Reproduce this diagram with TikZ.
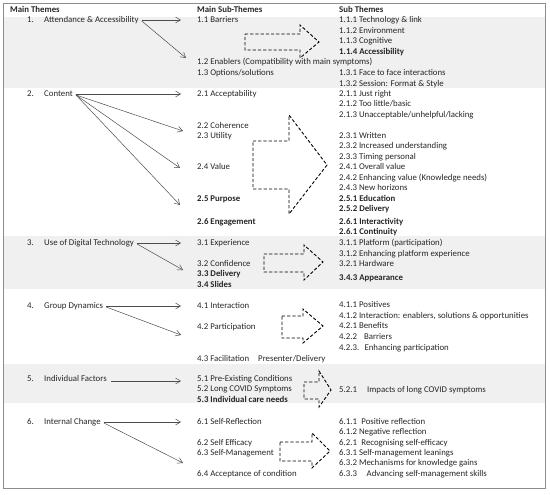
\documentclass[tikz,border=0pt]{standalone}
\usepackage{fontspec}
\setmainfont{Carlito}
\usetikzlibrary{positioning, arrows.meta, calc}

\begin{document}
\begin{tikzpicture}[x=1pt,y=-1pt,>={Straight Barb[length=5pt,width=6pt]},
    lbl/.style={anchor=west,inner sep=0pt,text height=7pt,text depth=1.3pt,
      font=\fontsize{8.8}{10.5}\selectfont,text=black!85},
    hd/.style={lbl,font=\fontsize{8.8}{10.5}\selectfont\bfseries},
    bold/.style={hd},
    link/.style={->,draw=black!70,line width=0.5pt},
    blockarrow/.style={draw=black,line width=0.9pt,dash pattern=on 3.2pt off 2pt,line join=miter},
    band/.style={fill=black!6,draw=none}]
    \useasboundingbox (0,0) rectangle (550,495);
    % shaded rows
    \fill[band] (3,17) rectangle (545,88);
    \fill[band] (3,236) rectangle (545,289);
    \fill[band] (3,364) rectangle (545,403);
    \draw[black!45,line width=0.8pt] (3,3) rectangle (545,488);
    % headings
    \node[hd] (h1) at (10,10) {Main Themes};
    \node[hd] (h2) at (197,10) {Main Sub-Themes};
    \node[hd] (h3) at (339,10) {Sub Themes};
    % 1
    \node[lbl] (n1) at (27,20) {1.};
    \node[lbl] (a1) at (44,20) {Attendance \& Accessibility};
    \node[lbl] (m11) at (197,20) {1.1 Barriers};
    \node[lbl] (m12) at (197,62) {1.2 Enablers (Compatibility with main symptoms)};
    \node[lbl] (m13) at (197,73) {1.3 Options/solutions};
    \node[lbl] (s111) at (339,20) {1.1.1 Technology \& link};
    \node[lbl] (s112) at (339,31) {1.1.2 Environment};
    \node[lbl] (s113) at (339,41) {1.1.3 Cognitive};
    \node[bold] (s114) at (339,52) {1.1.4 Accessibility};
    \node[lbl] (s131) at (339,73) {1.3.1 Face to face interactions};
    \node[lbl] (s132) at (339,84) {1.3.2 Session: Format \& Style};
    % 2
    \node[lbl] (n2) at (27,94) {2.};
    \node[lbl] (a2) at (44,94) {Content};
    \node[lbl] (m21) at (197,94) {2.1 Acceptability};
    \node[lbl] (m22) at (197,126) {2.2 Coherence};
    \node[lbl] (m23) at (197,136) {2.3 Utility};
    \node[lbl] (m24) at (197,167) {2.4 Value};
    \node[bold] (m25) at (197,199) {2.5 Purpose};
    \node[bold] (m26) at (197,222) {2.6 Engagement};
    \node[lbl] (s211) at (339,94) {2.1.1 Just right};
    \node[lbl] (s212) at (339,104) {2.1.2 Too little/basic};
    \node[lbl] (s213) at (339,115) {2.1.3 Unacceptable/unhelpful/lacking};
    \node[lbl] (s231) at (339,136) {2.3.1 Written};
    \node[lbl] (s232) at (339,146) {2.3.2 Increased understanding};
    \node[lbl] (s233) at (339,157) {2.3.3 Timing personal};
    \node[lbl] (s241) at (339,167) {2.4.1 Overall value};
    \node[lbl] (s242) at (339,178) {2.4.2 Enhancing value (Knowledge needs)};
    \node[lbl] (s243) at (339,188) {2.4.3 New horizons};
    \node[bold] (s251) at (339,199) {2.5.1 Education};
    \node[bold] (s252) at (339,209) {2.5.2 Delivery};
    \node[bold] (s261) at (339,222) {2.6.1 Interactivity};
    \node[bold] (s262) at (339,232) {2.6.1 Continuity};
    % 3
    \node[lbl] (n3) at (27,243) {3.};
    \node[lbl] (a3) at (44,243) {Use of Digital Technology};
    \node[lbl] (m31) at (197,243) {3.1 Experience};
    \node[lbl] (m32) at (197,264) {3.2 Confidence};
    \node[bold] (m33) at (197,274) {3.3 Delivery};
    \node[bold] (m34) at (197,285) {3.4 Slides};
    \node[lbl] (s311) at (339,243) {3.1.1 Platform (participation)};
    \node[lbl] (s312) at (339,254) {3.1.2 Enhancing platform experience};
    \node[lbl] (s321) at (339,264) {3.2.1 Hardware};
    \node[bold] (s343) at (339,278) {3.4.3 Appearance};
    % 4
    \node[lbl] (n4) at (27,306) {4.};
    \node[lbl] (a4) at (44,306) {Group Dynamics};
    \node[lbl] (m41) at (197,306) {4.1 Interaction};
    \node[lbl] (m42) at (197,327) {4.2 Participation};
    \node[lbl] (m43) at (197,359) {4.3 Facilitation};
    \node[lbl] (pres) at (258,359) {Presenter/Delivery};
    \node[lbl] (s411) at (339,305) {4.1.1 Positives};
    \node[lbl] (s412) at (339,316) {4.1.2 Interaction: enablers, solutions \& opportunities};
    \node[lbl] (s421) at (339,326) {4.2.1 Benefits};
    \node[lbl] (s422) at (339,337) {4.2.2\hspace{0.8em}Barriers};
    \node[lbl] (s423) at (339,348) {4.2.3.\hspace{0.6em}Enhancing participation};
    % 5
    \node[lbl] (n5) at (27,379) {5.};
    \node[lbl] (a5) at (44,379) {Individual Factors};
    \node[lbl] (m51) at (197,379) {5.1 Pre-Existing Conditions};
    \node[lbl] (m52) at (197,389) {5.2 Long COVID Symptoms};
    \node[bold] (m53) at (197,400) {5.3 Individual care needs};
    \node[lbl] (s521) at (339,390) {5.2.1};
    \node[lbl] (s521t) at (367,390) {Impacts of long COVID symptoms};
    % 6
    \node[lbl] (n6) at (27,422) {6.};
    \node[lbl] (a6) at (44,422) {Internal Change};
    \node[lbl] (m61) at (197,422) {6.1 Self-Reflection};
    \node[lbl] (m62) at (197,443) {6.2 Self Efficacy};
    \node[lbl] (m63) at (197,453) {6.3 Self-Management};
    \node[lbl] (m64) at (197,474) {6.4 Acceptance of condition};
    \node[lbl] (s611) at (339,422) {6.1.1\hspace{0.5em}Positive reflection};
    \node[lbl] (s612) at (339,432) {6.1.2 Negative reflection};
    \node[lbl] (s621) at (339,443) {6.2.1\hspace{0.5em}Recognising self-efficacy};
    \node[lbl] (s631) at (339,453) {6.3.1 Self-management leanings};
    \node[lbl] (s632) at (339,463) {6.3.2 Mechanisms for knowledge gains};
    \node[lbl] (s633) at (339,474) {6.3.3\hspace{1.1em}Advancing self-management skills};
    % theme -> sub-theme links
    \draw[link] ($(a1.east)+(3,0)$) -- ($(m11.west)+(-16,0)$);
    \draw[link] ($(a1.east)+(3,1)$) -- ($(m12.west)+(-11,-4)$);
    \draw[link] ($(a2.east)+(3,0)$) -- ($(m21.west)+(-16,0)$);
    \draw[link] ($(a2.east)+(3,1)$) -- ($(m22.west)+(-14,5)$);
    \draw[link] ($(a2.east)+(3,1)$) -- ($(m24.west)+(-17,1)$);
    \draw[link] ($(a2.east)+(3,1)$) -- ($(m25.west)+(-17,6)$);
    \draw[link] ($(a3.east)+(3,0)$) -- ($(m31.west)+(-16,0)$);
    \draw[link] ($(a3.east)+(3,1)$) -- ($(m32.west)+(-14,6)$);
    \draw[link] ($(a4.east)+(3,0)$) -- ($(m41.west)+(-16,0)$);
    \draw[link] ($(a4.east)+(3,1)$) -- ($(m42.west)+(-16,8)$);
    \draw[link] ($(a5.east)+(4,2)$) -- ($(m51.west)+(-16,2)$);
    \draw[link] ($(a6.east)+(3,0)$) -- ($(m61.west)+(-16,0)$);
    \draw[link] ($(a6.east)+(3,1)$) -- ($(m63.west)+(-14,10)$);
    % dashed block arrows
    \draw[blockarrow] (245,34) -- (300,34) -- (300,25) -- (319,42) -- (300,58) -- (300,50) -- (245,50) -- cycle;
    \draw[blockarrow] (253,141) -- (289,141) -- (289,115) -- (327,165) -- (289,214) -- (289,189) -- (253,189) -- cycle;
    \draw[blockarrow] (264,254) -- (304,254) -- (304,245) -- (323,262) -- (304,280) -- (304,272) -- (264,272) -- cycle;
    \draw[blockarrow] (282,316) -- (303,316) -- (303,309) -- (323,326) -- (303,343) -- (303,338) -- (282,338) -- cycle;
    \draw[blockarrow] (304,382) -- (319,382) -- (319,371) -- (331,390) -- (319,407) -- (319,399) -- (304,399) -- cycle;
    \draw[blockarrow] (280,442) -- (312,442) -- (312,433) -- (330,451) -- (312,468) -- (312,461) -- (280,461) -- cycle;
\end{tikzpicture}
\end{document}
